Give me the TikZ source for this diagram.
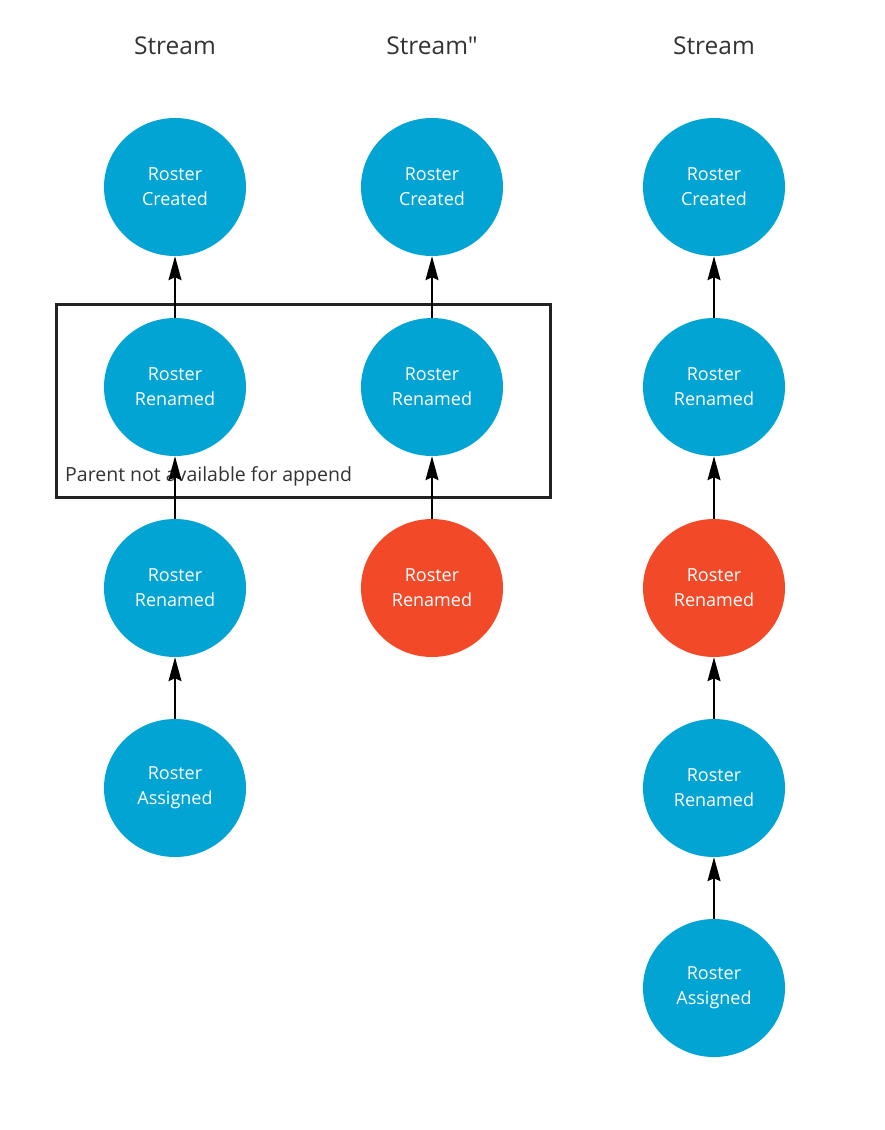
\documentclass[tikz,border=0pt]{standalone}
\usepackage{fontspec}
\setmainfont{Open Sans}
\newfontfamily\plainfont{Open Sans}
\usetikzlibrary{arrows.meta,shapes.geometric}
\definecolor{evblue}{HTML}{02A4D3}
\definecolor{evred}{HTML}{F24A29}
\definecolor{boxc}{HTML}{222222}
\definecolor{txt}{HTML}{333333}
\tikzset{
  ev/.style={ellipse, minimum width=142pt, minimum height=138pt, inner sep=0pt,
    fill=evblue, text=white, align=center, font=\fontsize{18}{25}\selectfont},
  evr/.style={ev, fill=evred},
  link/.style={draw=black, line width=1.6pt, -{Stealth[length=24pt,width=13pt,inset=3pt]}},
  title/.style={text=txt, font=\plainfont\fontsize{24.5}{28}\selectfont},
}
\begin{document}
\begin{tikzpicture}[x=1pt,y=-1pt]
\useasboundingbox (0,0) rectangle (884,1130);
\fill[white] (0,0) rectangle (884,1130);
\node[title] (t1) at (175,46) {Stream};
\node[title] (t2) at (432,46) {Stream"};
\node[title] (t3) at (714,46) {Stream};
% column 1
\node[ev] (a1) at (175,187) {Roster\\Created};
\node[ev] (a2) at (175,387) {Roster\\Renamed};
\node[ev] (a3) at (175,588) {Roster\\Renamed};
\node[ev] (a4) at (175,788) {Roster\\Assigned};
% column 2
\node[ev] (b1) at (432,187) {Roster\\Created};
\node[ev] (b2) at (432,387) {Roster\\Renamed};
\node[evr] (b3) at (432,588) {Roster\\Renamed};
% column 3
\node[ev] (c1) at (714,187) {Roster\\Created};
\node[ev] (c2) at (714,387) {Roster\\Renamed};
\node[evr] (c3) at (714,588) {Roster\\Renamed};
\node[ev] (c4) at (714,788) {Roster\\Renamed};
\node[ev] (c5) at (714,988) {Roster\\Assigned};
% box
\node[draw=boxc, line width=3pt, minimum width=494pt, minimum height=193pt, inner sep=0pt] (box) at (303.5,400.5) {};
\node[anchor=base west, inner sep=0pt, text=txt, font=\fontsize{19.5}{22}\selectfont] (lbl) at (65,481) {Parent not available for append};
% links
\draw[link] (a2) -- (a1);
\draw[link] (a3) -- (a2);
\draw[link] (a4) -- (a3);
\draw[link] (b2) -- (b1);
\draw[link] (b3) -- (b2);
\draw[link] (c2) -- (c1);
\draw[link] (c3) -- (c2);
\draw[link] (c4) -- (c3);
\draw[link] (c5) -- (c4);
\end{tikzpicture}
\end{document}
